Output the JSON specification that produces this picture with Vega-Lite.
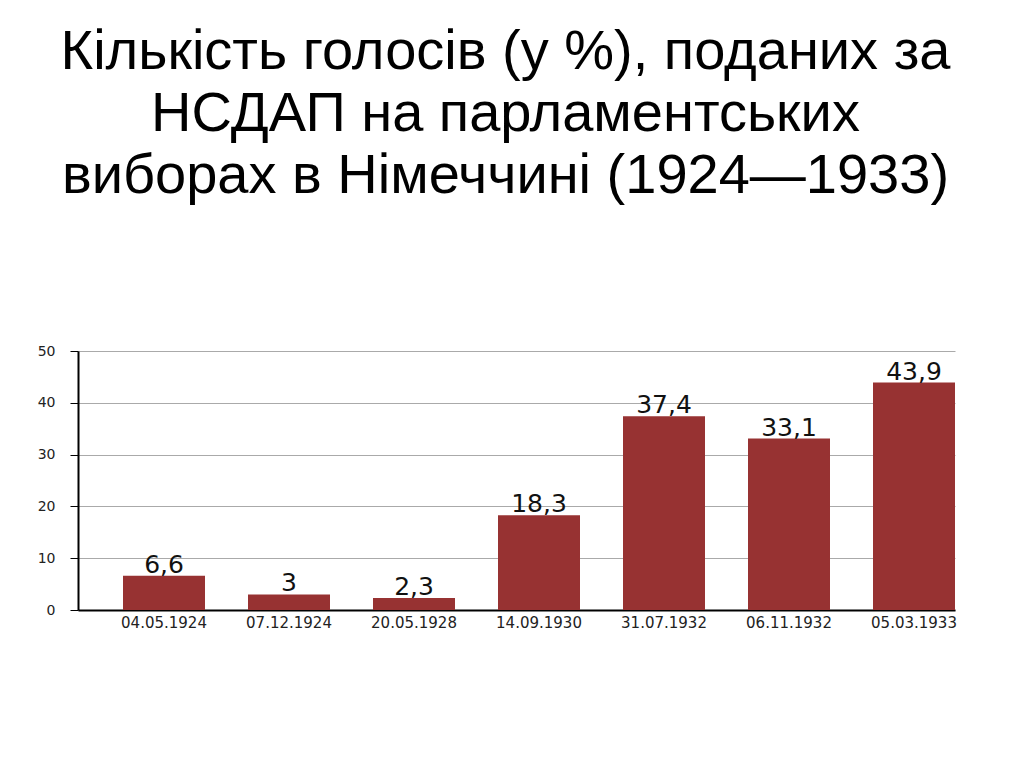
{
  "$schema": "https://vega.github.io/schema/vega-lite/v6.json",
  "autosize": "none",
  "width": 877,
  "height": 259,
  "padding": {"left": 78, "top": 351, "right": 69, "bottom": 157},
  "background": "white",
  "config": {
    "view": {"stroke": null},
    "locale": {
      "number": {"decimal": ",", "thousands": " ", "grouping": [3], "currency": ["", ""]}
    }
  },
  "title": {
    "text": [
      "Кількість голосів (у %), поданих за",
      "НСДАП на парламентських",
      "виборах в Німеччині (1924—1933)"
    ],
    "font": "Liberation Sans",
    "fontSize": 56,
    "fontWeight": "normal",
    "color": "black",
    "lineHeight": 62,
    "anchor": "middle",
    "dx": -11,
    "offset": 139
  },
  "data": {
    "values": [
      {"date": "04.05.1924", "votes": 6.6},
      {"date": "07.12.1924", "votes": 3},
      {"date": "20.05.1928", "votes": 2.3},
      {"date": "14.09.1930", "votes": 18.3},
      {"date": "31.07.1932", "votes": 37.4},
      {"date": "06.11.1932", "votes": 33.1},
      {"date": "05.03.1933", "votes": 43.9}
    ]
  },
  "encoding": {
    "x": {
      "field": "date",
      "type": "nominal",
      "sort": null,
      "title": null,
      "scale": {"paddingInner": 0.344, "paddingOuter": 0.18, "align": 1},
      "axis": {
        "labelAngle": 0,
        "labelFont": "DejaVu Sans",
        "labelFontSize": 15,
        "labelColor": "#222",
        "labelPadding": 5,
        "ticks": false,
        "domainColor": "black",
        "domainWidth": 2
      }
    },
    "y": {
      "field": "votes",
      "type": "quantitative",
      "title": null,
      "scale": {"domain": [0, 50], "nice": false},
      "axis": {
        "values": [0, 10, 20, 30, 40, 50],
        "labelFont": "DejaVu Sans",
        "labelFontSize": 14,
        "labelColor": "#222",
        "labelPadding": 15,
        "tickColor": "black",
        "tickSize": 8,
        "domainColor": "black",
        "domainWidth": 2,
        "gridColor": "#aaa",
        "gridWidth": 1
      }
    }
  },
  "layer": [
    {"mark": {"type": "bar", "color": "#973232"}},
    {
      "mark": {
        "type": "text",
        "font": "DejaVu Sans",
        "fontSize": 25,
        "color": "#111",
        "baseline": "alphabetic",
        "dy": -3
      },
      "encoding": {"text": {"field": "votes", "type": "quantitative", "format": ".3~g"}}
    }
  ]
}
